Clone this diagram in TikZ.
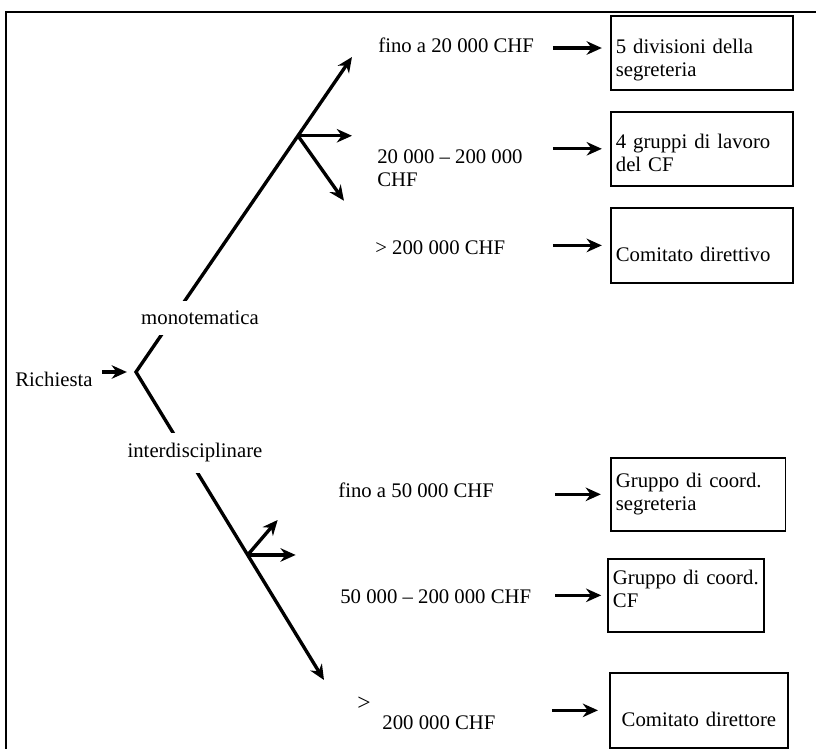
\documentclass[tikz,border=0pt]{standalone}
\usepackage{fontspec}
\setmainfont{Liberation Serif}
\usetikzlibrary{arrows.meta,calc,positioning}

\begin{document}
\begin{tikzpicture}[font=\fontsize{12.3}{13.6}\selectfont,>={Stealth[length=9pt,width=8pt]},
  branch/.style={line width=2pt},
  arr/.style={line width=2pt,->},
  lbl/.style={inner sep=0pt,anchor=west},
  cut/.style={fill=white,inner sep=6pt},
  box/.style={draw,line width=1pt,anchor=north west,align=left,inner xsep=3pt,inner ysep=0pt}]

  \useasboundingbox (0,0) rectangle (17,-15.604);

  % frame: only the top and left edges
  \draw[line width=1.6pt] (0.125,-15.7) -- (0.125,-0.25) -- (17.1,-0.25);

  %% ---------------------------------------------------------------
  %% the fork
  %% ---------------------------------------------------------------
  \coordinate (v) at (2.833,-7.75);
  \coordinate (t1) at (7.333,-1.1875);
  \coordinate (t2) at (6.75,-14.167);
  \coordinate (j1) at ($(v)!0.75!(t1)$);
  \coordinate (j2) at ($(v)!0.594!(t2)$);
  \coordinate (j1a) at ($(j1)+(1.125,0)$);
  \coordinate (j1b) at ($(j1)+(0.958,-1.354)$);
  \coordinate (j2a) at ($(j2)+(0.625,0.729)$);
  \coordinate (j2b) at ($(j2)+(1.0,0)$);

  \node[lbl] (req) at (0.3125,-7.896) {Richiesta};
  \draw[arr] ($(req.east |- v)+(0.2,0)$) -- ($(v)+(-0.19,0)$);

  % the two branches, one path
  \draw[branch,<->] (t1) -- (v) -- (t2);
  % side arrows
  \draw[arr] (j1) -- (j1a);
  \draw[arr] (j1) -- (j1b);
  \draw[arr] (j2) -- (j2a);
  \draw[arr] (j2) -- (j2b);

  % branch names, on white so they cut the lines
  \node[cut] (mono) at (4.167,-6.625) {monotematica};
  \node[cut] (inter) at (4.0625,-9.4375) {interdisciplinare};

  %% ---------------------------------------------------------------
  %% amounts
  %% ---------------------------------------------------------------
  \node[lbl] (p1) at (7.875,-0.9375) {fino a 20 000 CHF};
  \node[lbl,align=left] (p2) at (7.854,-3.5) {20 000 -- 200 000\\CHF};
  \node[lbl] (p3) at (7.8125,-5.167) {> 200 000 CHF};
  \node[lbl] (p4) at (7.042,-10.208) {fino a 50 000 CHF};
  \node[lbl] (p5) at (7.083,-12.4375) {50 000 -- 200 000 CHF};
  \node[lbl,anchor=base west] (p6) at (7.4375,-15.1875)
    {\raisebox{11pt}{\fontsize{14}{14}\selectfont>}\hspace{7pt}200 000 CHF};

  %% ---------------------------------------------------------------
  %% deciding bodies
  %% ---------------------------------------------------------------
  \node[box,text width=3.58cm,text height=0.79cm,text depth=0.75cm] (b1) at (12.708,-0.3125)
    {5 divisioni della\\segreteria};
  \node[box,text width=3.58cm,text height=0.77cm,text depth=0.77cm] (b2) at (12.708,-2.3125)
    {4 gruppi di lavoro\\del CF};
  \node[box,text width=3.58cm,text height=1.125cm,text depth=0.44cm] (b3) at (12.708,-4.3125)
    {Comitato direttivo};
  \node[box,text width=3.43cm,text height=0.62cm,text depth=0.9cm] (b4) at (12.708,-9.521)
    {Gruppo di coord.\\segreteria};
  \node[box,text width=3.04cm,text height=0.54cm,text depth=0.98cm] (b5) at (12.646,-11.625)
    {Gruppo di coord.\\CF};
  \node[box,align=center,text width=3.5cm,text height=1.125cm,text depth=0.4375cm] (b6) at (12.6875,-14.0)
    {Comitato direttore};

  % arrows into the boxes
  \draw[arr] ([xshift=-1.19cm,yshift=0.1cm]b1.west) -- ([xshift=-0.17cm,yshift=0.1cm]b1.west);
  \draw[arr] ([xshift=-1.19cm]b2.west) -- ([xshift=-0.17cm]b2.west);
  \draw[arr] ([xshift=-1.19cm]b3.west) -- ([xshift=-0.17cm]b3.west);
  \draw[arr] ([xshift=-1.15cm]b4.west) -- ([xshift=-0.19cm]b4.west);
  \draw[arr] ([xshift=-1.08cm]b5.west) -- ([xshift=-0.12cm]b5.west);
  \draw[arr] ([xshift=-1.19cm]b6.west) -- ([xshift=-0.23cm]b6.west);

\end{tikzpicture}
\end{document}
